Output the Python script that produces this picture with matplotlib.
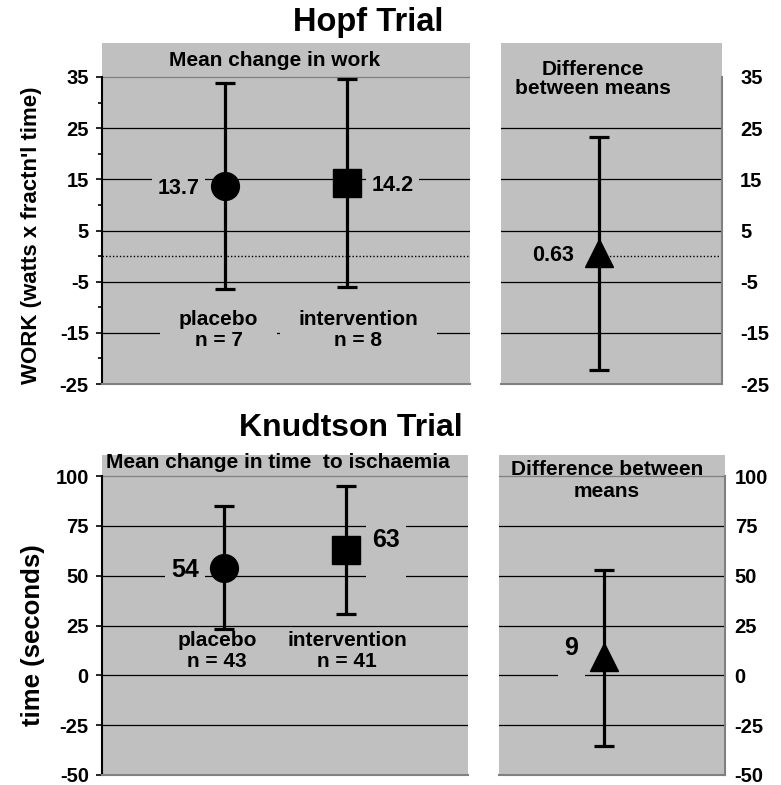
import matplotlib
matplotlib.use('Agg')
import matplotlib.pyplot as plt
import matplotlib.transforms as mtransforms

plt.rcParams['font.family'] = ['Liberation Sans', 'DejaVu Sans']
plt.rcParams['font.weight'] = 'bold'
plt.rcParams['axes.unicode_minus'] = False

# ---------------- data ----------------
groups = ['placebo', 'intervention']
group_markers = ['o', 's']

hopf_n = [7, 8]
hopf_means = [13.7, 14.2]
hopf_upper = [33.9, 34.6]
hopf_lower = [-6.5, -6.1]
hopf_diff_mean = 0.63
hopf_diff_upper = 23.3
hopf_diff_lower = -22.3
hopf_ticks = [-25, -15, -5, 5, 15, 25, 35]
hopf_minor = [-20, -10, 0, 10, 20, 30]

knud_n = [43, 41]
knud_means = [54, 63]
knud_upper = [84.8, 94.9]
knud_lower = [23.1, 30.9]
knud_diff_mean = 9
knud_diff_upper = 52.6
knud_diff_lower = -35.4
knud_ticks = [-50, -25, 0, 25, 50, 75, 100]

# ---------------- layout ----------------
W, H = 781, 785
BG = '#c0c0c0'
GRAY = '#808080'
PX = 72.0 / 100.0  # points per pixel
TICK_FS = 14.5
DIFF_XLIM = (0, 2.25)
HOPF_DIFF_X = 1.0
KNUD_DIFF_X = 1.05

fig = plt.figure(figsize=(W / 100, H / 100), dpi=100)


def rect(x0, x1, ytop, ybot):
    return [x0 / W, 1 - ybot / H, (x1 - x0) / W, (ybot - ytop) / H]


ax1 = fig.add_axes(rect(102, 470, 43, 384))
ax2 = fig.add_axes(rect(501, 722, 43, 384))
ax3 = fig.add_axes(rect(102, 468, 455, 775))
ax4 = fig.add_axes(rect(499, 725, 455, 775))

hopf_ylim = (-25, 35 + (77 - 43) / ((384 - 77) / 60.0))
knud_ylim = (-50, 100 + (476 - 455) / ((775 - 476) / 150.0))


def style_main(ax, ticks, minor, ylim):
    ax.set_facecolor(BG)
    ax.set_xlim(0, 3)
    ax.set_ylim(*ylim)
    ax.spines['top'].set_visible(False)
    ax.spines['right'].set_visible(False)
    ax.spines['left'].set_bounds(ticks[0], ticks[-1])
    ax.spines['left'].set_linewidth(1.5)
    ax.spines['left'].set_color('black')
    ax.spines['bottom'].set_color(GRAY)
    ax.spines['bottom'].set_linewidth(1.5)
    ax.set_xticks([])
    ax.set_yticks(ticks)
    if minor:
        ax.set_yticks(minor, minor=True)
    ax.tick_params(axis='y', which='major', direction='out', length=4.5, width=1.2,
                   pad=5, labelsize=TICK_FS)
    ax.tick_params(axis='y', which='minor', direction='out', length=3, width=1.2)
    for lab in ax.get_yticklabels():
        lab.set_fontweight('bold')
    for t in ticks[1:]:
        ax.axhline(t, color=GRAY if t == ticks[-1] else 'black', lw=0.9, zorder=1)


def style_diff(ax, ticks, ylim, pad, top_line):
    ax.set_facecolor(BG)
    ax.set_xlim(*DIFF_XLIM)
    ax.set_ylim(*ylim)
    ax.yaxis.tick_right()
    ax.spines['top'].set_visible(False)
    ax.spines['left'].set_visible(False)
    ax.spines['right'].set_bounds(ticks[0], ticks[-1])
    ax.spines['right'].set_color(GRAY)
    ax.spines['right'].set_linewidth(1.5)
    ax.spines['bottom'].set_color(GRAY)
    ax.spines['bottom'].set_linewidth(1.5)
    ax.set_xticks([])
    ax.set_yticks(ticks)
    ax.tick_params(axis='y', length=0, pad=pad, labelsize=TICK_FS)
    for lab in ax.get_yticklabels():
        lab.set_fontweight('bold')
    for t in ticks[1:]:
        if t == ticks[-1] and not top_line:
            continue
        ax.axhline(t, color=GRAY if t == ticks[-1] else 'black', lw=0.9, zorder=1)


style_main(ax1, hopf_ticks, hopf_minor, hopf_ylim)
style_diff(ax2, hopf_ticks, hopf_ylim, 13, False)
style_main(ax3, knud_ticks, None, knud_ylim)
style_diff(ax4, knud_ticks, knud_ylim, 7, True)

DOT = dict(color='black', lw=1.0, ls=(0, (1, 1.5)), zorder=1)
ax1.axhline(0, **DOT)
ax2.axhline(0, xmin=(HOPF_DIFF_X - DIFF_XLIM[0]) / (DIFF_XLIM[1] - DIFF_XLIM[0]), **DOT)

EB = dict(color='black', mfc='black', mec='black', ms=20, elinewidth=2.3,
          capsize=7, capthick=2.3, zorder=5)
BOX = dict(boxstyle='square,pad=0.25', fc=BG, ec='none')
BOX_GRP = dict(boxstyle='square,pad=0.9', fc=BG, ec='none')


def draw_main(ax, means, upper, lower, ns, val_fs, val_labels, grp_fs, grp_y, grp_dx,
              use_box):
    for i, (m, hi, lo) in enumerate(zip(means, upper, lower)):
        x = i + 1
        ax.errorbar([x], [m], yerr=[[m - lo], [hi - m]], fmt=group_markers[i], **EB)
        txt, dx, ha = val_labels[i]
        ax.annotate(txt, xy=(x, m), xytext=(dx * PX, 0), textcoords='offset points',
                    ha=ha, va='center_baseline', fontsize=val_fs, bbox=BOX, zorder=3)
        label = f"{groups[i]}\nn = {ns[i]}"
        trans = mtransforms.blended_transform_factory(ax.transData, ax.transAxes)
        ax.annotate(label, xy=(x, grp_y), xycoords=trans,
                    xytext=(grp_dx[i] * PX, 0), textcoords='offset points',
                    ha='center', va='center', fontsize=grp_fs, linespacing=1.1,
                    bbox=BOX_GRP if use_box else None, zorder=3)


# Hopf main
draw_main(ax1, hopf_means, hopf_upper, hopf_lower, hopf_n, 15.5,
          [(f"{hopf_means[0]:g}", -25, 'right'), (f"{hopf_means[1]:g}", 24, 'left')],
          15, 0.158, [-6, 11], True)
# Knudtson main
draw_main(ax3, knud_means, knud_upper, knud_lower, knud_n, 18,
          [(f"{knud_means[0]:g}", -25, 'right'), (f"{knud_means[1]:g}\n ", 26, 'left')],
          15, 0.388, [-7, 1], False)

# difference panels
ax2.errorbar([HOPF_DIFF_X], [hopf_diff_mean],
             yerr=[[hopf_diff_mean - hopf_diff_lower], [hopf_diff_upper - hopf_diff_mean]],
             fmt='^', **EB)
ax2.annotate(f"{hopf_diff_mean:g}", xy=(HOPF_DIFF_X, hopf_diff_mean), xytext=(-25 * PX, 0),
             textcoords='offset points', ha='right', va='center_baseline', fontsize=15.5,
             bbox=BOX, zorder=3)
ax4.errorbar([KNUD_DIFF_X], [knud_diff_mean],
             yerr=[[knud_diff_mean - knud_diff_lower], [knud_diff_upper - knud_diff_mean]],
             fmt='^', **EB)
ax4.annotate(f"{knud_diff_mean:g}\n ", xy=(KNUD_DIFF_X, knud_diff_mean), xytext=(-26 * PX, 0),
             textcoords='offset points', ha='right', va='center_baseline', fontsize=18,
             bbox=BOX, zorder=3)

# panel captions
ax1.text(0.47, 0.95, 'Mean change in work', transform=ax1.transAxes, ha='center',
         va='center', fontsize=15)
ax2.text(0.416, 0.895, 'Difference\nbetween means', transform=ax2.transAxes, ha='center',
         va='center', fontsize=15, linespacing=1.0)
ax3.text(0.481, 0.978, 'Mean change in time  to ischaemia', transform=ax3.transAxes,
         ha='center', va='center', fontsize=15)
ax4.text(0.478, 0.92, 'Difference between\nmeans', transform=ax4.transAxes, ha='center',
         va='center', fontsize=15, linespacing=1.15)

# titles and axis labels
fig.text(368 / W, 1 - 22 / H, 'Hopf Trial', ha='center', va='center', fontsize=23.5)
fig.text(351 / W, 1 - 428 / H, 'Knudtson Trial', ha='center', va='center', fontsize=23)
fig.text(32 / W, 1 - 235 / H, "WORK (watts x fractn'l time)", rotation=90, ha='center',
         va='center', fontsize=16)
fig.text(33 / W, 1 - 635 / H, 'time (seconds)', rotation=90, ha='center', va='center',
         fontsize=18.5)

fig.savefig('out.png', dpi=100)
